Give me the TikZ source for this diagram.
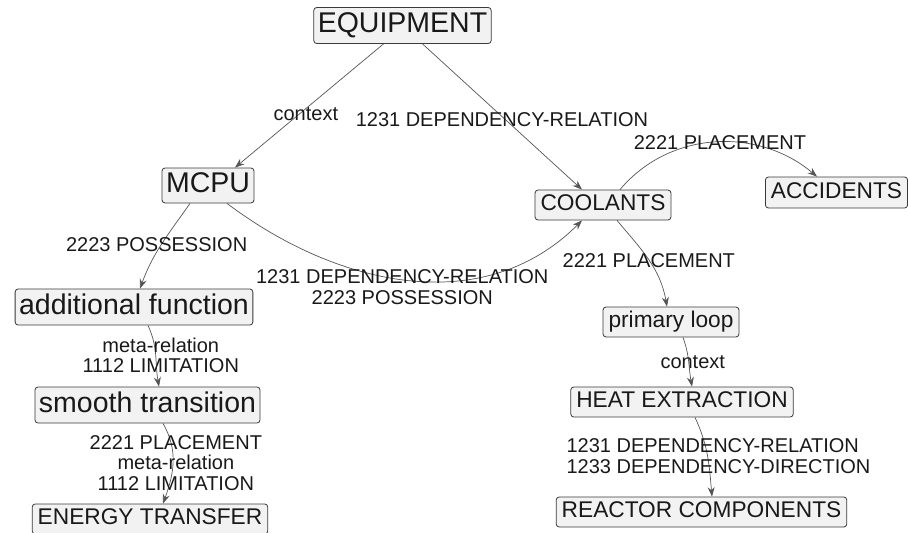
\documentclass[tikz,border=0pt]{standalone}
\usepackage{fontspec}
\setmainfont{Liberation Sans}
\usetikzlibrary{arrows.meta}
\definecolor{boxfill}{HTML}{F2F2F2}
\definecolor{boxline}{HTML}{3A3A3A}
\definecolor{edgegray}{HTML}{555555}

\begin{document}
\begin{tikzpicture}[
  x=1pt, y=1pt,
  concept/.style={draw=boxline, fill=boxfill, rounded corners=3pt,
                  line width=0.8pt, inner xsep=4pt, inner ysep=0pt,
                  text height=20.5pt, text depth=6pt,
                  minimum height=36pt, text=black!90,
                  font=\fontsize{28.5}{30}\selectfont},
  topic/.style={concept, inner xsep=5.5pt, minimum height=30pt,
                text height=16.5pt, text depth=4.8pt,
                font=\fontsize{22.7}{24}\selectfont},
  lbl/.style={inner sep=1pt, align=center, text=black!90,
              font=\fontsize{20}{20.5}\selectfont},
  arr/.style={-{Stealth[length=9.5pt,width=7pt]}, draw=edgegray,
              line width=0.7pt},
]
\useasboundingbox (0,0) rectangle (908,-533);
\node[concept] (equip) at (402.5,-25.5) {EQUIPMENT};
\node[concept, minimum height=35pt] (mcpu) at (208,-185.5) {MCPU};
\node[concept] (addf) at (134,-307) {additional function};
\node[concept] (smooth) at (147.5,-405) {smooth transition};
\node[topic] (energy) at (150,-519) {ENERGY TRANSFER};
\node[topic] (cool) at (603,-205) {COOLANTS};
\node[topic, minimum height=31pt] (acc) at (836.5,-192.5) {ACCIDENTS};
\node[topic] (ploop) at (671,-322) {primary loop};
\node[topic] (heat) at (682,-402) {HEAT EXTRACTION};
\node[topic] (reactor) at (701.5,-512) {REACTOR COMPONENTS};

\draw[arr] ([xshift=-19pt]equip.south) -- node[lbl, pos=0.57, xshift=7pt]
  {context} ([xshift=27pt]mcpu.north);
\draw[arr] ([xshift=20pt]equip.south) -- node[lbl, pos=0.52, xshift=-3.5pt]
  {1231 DEPENDENCY-RELATION} ([xshift=-21pt]cool.north);
\draw[arr] ([xshift=17pt]cool.north) to[out=50, in=140]
  node[lbl, pos=0.5, xshift=5pt] {2221 PLACEMENT} ([xshift=-19.5pt]acc.north);
\draw[arr] ([xshift=-18pt]mcpu.south) to[out=-125, in=70]
  node[lbl, pos=0.5, xshift=-5pt] {2223 POSSESSION} ([xshift=6pt]addf.north);
\draw[arr] ([xshift=19pt]mcpu.south) to[out=-37, in=225]
  node[lbl, pos=0.5, xshift=-7pt, yshift=-7pt]
  {1231 DEPENDENCY-RELATION\\2223 POSSESSION} ([xshift=-21pt]cool.south);
\draw[arr] ([xshift=14pt]cool.south) to[out=-50, in=100]
  node[lbl, pos=0.5] {2221 PLACEMENT} ([xshift=-4pt]ploop.north);
\draw[arr] ([xshift=12pt]ploop.south) to[out=-70, in=100]
  node[lbl, pos=0.5, xshift=4pt] {context} ([xshift=10pt]heat.north);
\draw[arr] ([xshift=13pt]heat.south) to[out=-65, in=95]
  node[lbl, align=left, pos=0.5, xshift=11pt]
  {1231 DEPENDENCY-RELATION\\1233 DEPENDENCY-DIRECTION}
  ([xshift=10.5pt]reactor.north);
\draw[arr] ([xshift=14pt]addf.south) to[out=-65, in=100]
  node[lbl, pos=0.5, xshift=5pt] {meta-relation\\1112 LIMITATION}
  ([xshift=11.5pt]smooth.north);
\draw[arr] ([xshift=15.5pt]smooth.south) to[out=-60, in=70]
  node[lbl, pos=0.5, xshift=3pt]
  {2221 PLACEMENT\\meta-relation\\1112 LIMITATION}
  ([xshift=13pt]energy.north);
\end{tikzpicture}
\end{document}
